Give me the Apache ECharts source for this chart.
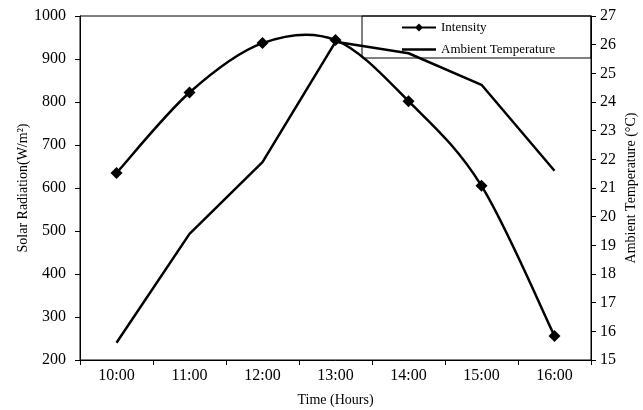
<!DOCTYPE html>
<html><head><meta charset="utf-8">
<script src="https://cdn.jsdelivr.net/npm/echarts@6/dist/echarts.min.js"></script>
<style>html,body{margin:0;padding:0;background:#fff}#c{width:643px;height:410px}</style>
</head><body><div id="c"></div>
<script>
const categories = ['10:00', '11:00', '12:00', '13:00', '14:00', '15:00', '16:00'];
const intensity = [635, 822, 937, 944, 802, 605, 256];
const temperature = [15.6, 19.4, 21.9, 26.1, 25.7, 24.6, 21.6];
const leftMin = 200, leftMax = 1000, leftStep = 100;
const rightMin = 15, rightMax = 27, rightStep = 1;

const FONT = "'Liberation Serif', 'Times New Roman', serif";
const chart = echarts.init(document.getElementById('c'), null, {renderer: 'canvas'});

// Catmull-Rom style smooth curve through the Intensity points (drawn via axis coords)
function renderSmoothSegment(params, api) {
  const i = params.dataIndex;
  const n = intensity.length;
  if (i >= n - 1) return null;
  const P = k => api.coord([Math.max(0, Math.min(n - 1, k)), intensity[Math.max(0, Math.min(n - 1, k))]]);
  const p0 = P(i - 1), p1 = P(i), p2 = P(i + 1), p3 = P(i + 2);
  return {
    type: 'bezierCurve',
    shape: {
      x1: p1[0], y1: p1[1], x2: p2[0], y2: p2[1],
      cpx1: p1[0] + (p2[0] - p0[0]) / 6, cpy1: p1[1] + (p2[1] - p0[1]) / 6,
      cpx2: p2[0] - (p3[0] - p1[0]) / 6, cpy2: p2[1] - (p3[1] - p1[1]) / 6
    },
    style: {fill: null, stroke: '#000', lineWidth: 2.5}
  };
}

chart.setOption({
  backgroundColor: '#fff',
  animation: false,
  textStyle: {fontFamily: FONT, color: '#000'},
  grid: {left: 80, right: 52, top: 16, bottom: 50, show: true, borderColor: '#000', borderWidth: 1, backgroundColor: 'transparent', outerBoundsMode: 'none'},
  graphic: [{
    type: 'rect', shape: {x: 362, y: 16, width: 229, height: 42},
    style: {fill: 'transparent', stroke: '#000', lineWidth: 1}, z: 100
  }],
  legend: {
    data: [
      {name: 'Intensity', icon: 'path://M0,0L0.01,0M0,4L14,4L17,1L20,4L34,4L34,6L20,6L17,9L14,6L0,6ZM34,10L34.01,10'},
      {name: 'Ambient Temperature', icon: 'path://M0,0L0.01,0M0,3.8L34,3.8L34,6.2L0,6.2ZM34,10L34.01,10'}
    ],
    orient: 'vertical', left: 397, top: 16, itemWidth: 34, itemHeight: 10, itemGap: 9,
    textStyle: {fontFamily: FONT, fontSize: 13, color: '#000'}
  },
  xAxis: {
    type: 'category', data: categories, boundaryGap: true,
    name: 'Time (Hours)', nameLocation: 'middle', nameGap: 33, nameMoveOverlap: false,
    nameTextStyle: {fontFamily: FONT, fontSize: 14, color: '#000'},
    axisLine: {lineStyle: {color: '#000', width: 1}},
    axisTick: {show: true, length: 5, lineStyle: {color: '#000'}},
    axisLabel: {margin: 8, fontSize: 16, fontFamily: FONT, color: '#000'}
  },
  yAxis: [{
    type: 'value', min: leftMin, max: leftMax, interval: leftStep,
    name: 'Solar Radiation(W/m²)', nameLocation: 'middle', nameGap: 50, nameRotate: 90, nameMoveOverlap: false,
    nameTextStyle: {fontFamily: FONT, fontSize: 14, color: '#000'},
    axisLine: {show: true, lineStyle: {color: '#000', width: 1}},
    axisTick: {show: true, length: 5, lineStyle: {color: '#000'}},
    splitLine: {show: false},
    axisLabel: {margin: 14, fontSize: 16, fontFamily: FONT, color: '#000', formatter: v => String(v)}
  }, {
    type: 'value', position: 'right', min: rightMin, max: rightMax, interval: rightStep,
    name: 'Ambient Temperature (°C)', nameLocation: 'middle', nameGap: 33, nameRotate: 90, nameMoveOverlap: false,
    nameTextStyle: {fontFamily: FONT, fontSize: 14, color: '#000'},
    axisLine: {show: true, lineStyle: {color: '#000', width: 1}},
    axisTick: {show: true, length: 5, lineStyle: {color: '#000'}},
    splitLine: {show: false},
    axisLabel: {margin: 9, fontSize: 16, fontFamily: FONT, color: '#000'}
  }],
  series: [{
    name: 'Intensity', type: 'line', yAxisIndex: 0, data: intensity,
    symbol: 'diamond', symbolSize: 12, z: 3,
    lineStyle: {opacity: 0, width: 0}, itemStyle: {color: '#000'}
  }, {
    name: 'Intensity curve', type: 'custom', yAxisIndex: 0, silent: true, z: 2,
    data: intensity.map((v, i) => [i, v]),
    renderItem: renderSmoothSegment
  }, {
    name: 'Ambient Temperature', type: 'line', yAxisIndex: 1, data: temperature,
    symbol: 'none', showSymbol: false,
    lineStyle: {color: '#000', width: 2.5}, itemStyle: {color: '#000'}
  }]
});
</script></body></html>
